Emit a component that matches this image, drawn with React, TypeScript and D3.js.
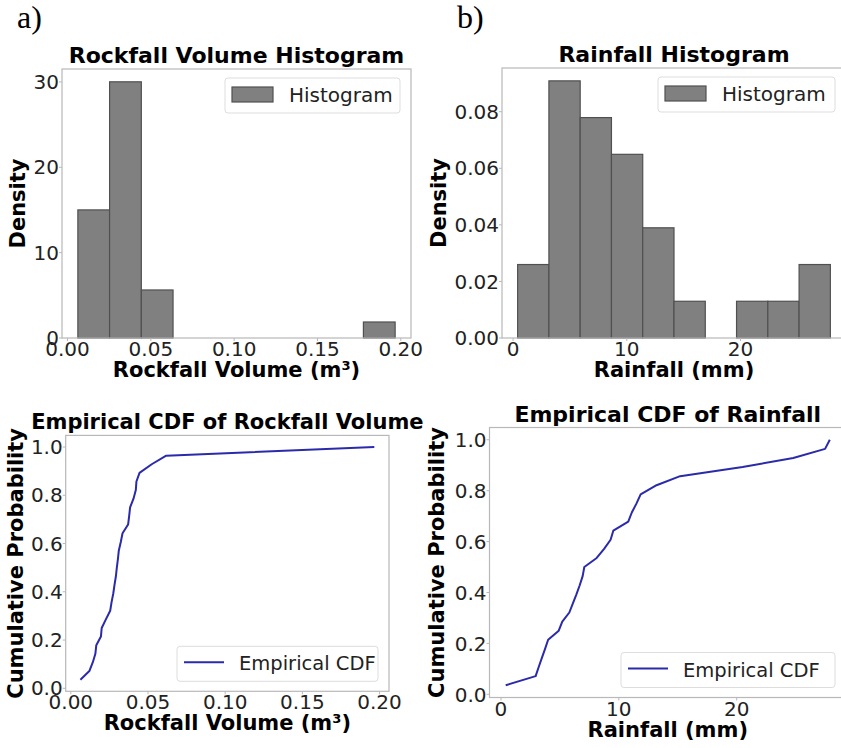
import * as React from 'react';
import * as d3 from 'd3';

// sorted samples (n = 28 each)
const rockfallVolume = [
  0.0062, 0.0120, 0.0142, 0.0159, 0.0165, 0.0195, 0.0200, 0.0227, 0.0255, 0.0264,
  0.0275, 0.0283, 0.0292, 0.0298, 0.0305, 0.0311, 0.0324, 0.0335, 0.0371, 0.0378,
  0.0384, 0.0406, 0.0421, 0.0425, 0.0445, 0.0524, 0.0618, 0.1966,
];
const rainfall = [
  0.4, 2.94, 3.2, 3.47, 3.74, 4.0, 4.9, 5.2, 5.8, 6.1,
  6.4, 6.68, 6.93, 7.07, 8.12, 8.75, 9.3, 9.53, 10.8, 11.1,
  11.5, 11.85, 13.2, 15.2, 20.5, 24.8, 27.5, 27.9,
];

const rockfallTicks = [0, 0.05, 0.1, 0.15, 0.2];
const rainfallTicks = [0, 10, 20];
const rockDensityTicks = [0, 10, 20, 30];
const rainDensityTicks = [0, 0.02, 0.04, 0.06, 0.08];
const probTicks = [0, 0.2, 0.4, 0.6, 0.8, 1.0];

const numBins = 10;
const font = '"DejaVu Sans", sans-serif';
const barFill = '#808080';
const barEdge = '#505050';
const lineColor = '#2a2aaa';
const spineColor = '#b8b8b8';
const textColor = '#222';

interface Rect { left: number; right: number; top: number; bottom: number; }

function padded(lo: number, hi: number): [number, number] {
  const p = (hi - lo) * 0.05;
  return [lo - p, hi + p];
}

function histBins(values: number[]) {
  const [lo, hi] = d3.extent(values) as [number, number];
  const w = (hi - lo) / numBins;
  const edges = d3.range(1, numBins).map(i => lo + i * w);
  const bins = d3.bin().domain([lo, hi]).thresholds(edges)(values);
  return bins.map(b => ({ x0: b.x0 as number, x1: b.x1 as number, density: b.length / (values.length * w) }));
}

interface FrameProps {
  rect: Rect;
  x: d3.ScaleLinear<number, number>;
  y: d3.ScaleLinear<number, number>;
  xTicks: number[];
  yTicks: number[];
  xFmt: (v: number) => string;
  yFmt: (v: number) => string;
  title: string;
  titleSize: number;
  xLabel: string;
  yLabel: string;
  yLabelX: number;
  children?: React.ReactNode;
}

function Frame(p: FrameProps) {
  const { rect, x, y } = p;
  const cx = (rect.left + rect.right) / 2;
  const cy = (rect.top + rect.bottom) / 2;
  return <g fontFamily={font} fill={textColor}>
    {p.children}
    <rect x={rect.left} y={rect.top} width={rect.right - rect.left} height={rect.bottom - rect.top}
      fill="none" stroke={spineColor} strokeWidth={1.2} />
    {p.xTicks.map(t => <g key={'x' + t}>
      <line x1={x(t)} x2={x(t)} y1={rect.bottom} y2={rect.bottom + 3} stroke={spineColor} />
      <text x={x(t)} y={rect.bottom + 18} fontSize={20} textAnchor="middle">{p.xFmt(t)}</text>
    </g>)}
    {p.yTicks.map(t => <g key={'y' + t}>
      <line x1={rect.left - 3} x2={rect.left} y1={y(t)} y2={y(t)} stroke={spineColor} />
      <text x={rect.left - 3} y={y(t)} dy="0.36em" fontSize={20} textAnchor="end">{p.yFmt(t)}</text>
    </g>)}
    <text x={cx} y={rect.top - 6} fontSize={p.titleSize} fontWeight="bold" textAnchor="middle" fill="#000">{p.title}</text>
    <text x={cx} y={rect.bottom + 39} fontSize={21} fontWeight="bold" textAnchor="middle" fill="#000">{p.xLabel}</text>
    <text transform={`translate(${p.yLabelX},${cy}) rotate(-90)`} fontSize={21} fontWeight="bold"
      textAnchor="middle" fill="#000">{p.yLabel}</text>
  </g>;
}

function HistPanel(props: { values: number[]; rect: Rect; xTicks: number[]; yTicks: number[];
  xFmt: (v: number) => string; yFmt: (v: number) => string; title: string; xLabel: string;
  yLabelX: number; legendW: number; }) {
  const { values, rect } = props;
  const bins = histBins(values);
  const [lo, hi] = d3.extent(values) as [number, number];
  const x = d3.scaleLinear().domain(padded(lo, hi)).range([rect.left, rect.right]);
  const maxD = d3.max(bins, b => b.density) as number;
  const y = d3.scaleLinear().domain([0, maxD * 1.05]).range([rect.bottom, rect.top]);
  const lx = rect.right - 11 - props.legendW;
  const ly = rect.top + 9;
  return <Frame rect={rect} x={x} y={y} xTicks={props.xTicks} yTicks={props.yTicks} xFmt={props.xFmt}
    yFmt={props.yFmt} title={props.title} titleSize={22} xLabel={props.xLabel} yLabel="Density"
    yLabelX={props.yLabelX}>
    {bins.filter(b => b.density > 0).map((b, i) =>
      <rect key={i} x={x(b.x0)} y={y(b.density)} width={x(b.x1) - x(b.x0)} height={y(0) - y(b.density)}
        fill={barFill} stroke={barEdge} strokeWidth={1.2} />)}
    <rect x={lx} y={ly} width={props.legendW} height={35} rx={3} fill="#fff" fillOpacity={0.8} stroke="#ddd" />
    <rect x={lx + 7} y={ly + 9} width={41} height={15} fill={barFill} stroke={barEdge} strokeWidth={1.2} />
    <text x={lx + 64} y={ly + 24} fontSize={20}>Histogram</text>
  </Frame>;
}

function CdfPanel(props: { values: number[]; rect: Rect; xTicks: number[]; xFmt: (v: number) => string;
  title: string; titleSize: number; xLabel: string; yLabelX: number; legendW: number; }) {
  const { values, rect } = props;
  const n = values.length;
  const sorted = values.slice().sort(d3.ascending);
  const pts = sorted.map((v, i) => [v, (i + 1) / n] as [number, number]);
  const [lo, hi] = d3.extent(sorted) as [number, number];
  const x = d3.scaleLinear().domain(padded(lo, hi)).range([rect.left, rect.right]);
  const y = d3.scaleLinear().domain(padded(1 / n, 1)).range([rect.bottom, rect.top]);
  const path = d3.line<[number, number]>().x(d => x(d[0])).y(d => y(d[1]))(pts) as string;
  const lx = rect.right - 11 - props.legendW;
  const ly = rect.bottom - 10 - 35;
  return <Frame rect={rect} x={x} y={y} xTicks={props.xTicks} yTicks={probTicks} xFmt={props.xFmt}
    yFmt={d3.format('.1f')} title={props.title} titleSize={props.titleSize} xLabel={props.xLabel}
    yLabel="Cumulative Probability" yLabelX={props.yLabelX}>
    <path d={path} fill="none" stroke={lineColor} strokeWidth={2} strokeLinejoin="round" />
    <rect x={lx} y={ly} width={props.legendW} height={35} rx={3} fill="#fff" fillOpacity={0.8} stroke="#ddd" />
    <line x1={lx + 7} x2={lx + 47} y1={ly + 16} y2={ly + 16} stroke={lineColor} strokeWidth={2} />
    <text x={lx + 62} y={ly + 24} fontSize={19.5}>Empirical CDF</text>
  </Frame>;
}

export default function App() {
  const f2 = d3.format('.2f');
  const fInt = d3.format('d');
  return <div style={{ position: 'absolute', left: 0, top: 0 }}>
    <svg width={841} height={748} style={{ display: 'block', background: '#fff' }}>
      <text x={17} y={28} fontFamily='"Liberation Serif", serif' fontSize={32}>a)</text>
      <text x={457} y={28} fontFamily='"Liberation Serif", serif' fontSize={32}>b)</text>
      <HistPanel values={rockfallVolume} rect={{ left: 62, right: 411, top: 69, bottom: 338 }}
        xTicks={rockfallTicks} yTicks={rockDensityTicks} xFmt={f2} yFmt={fInt}
        title="Rockfall Volume Histogram" xLabel="Rockfall Volume (m³)" yLabelX={25} legendW={175} />
      <HistPanel values={rainfall} rect={{ left: 502, right: 846, top: 68, bottom: 338 }}
        xTicks={rainfallTicks} yTicks={rainDensityTicks} xFmt={fInt} yFmt={f2}
        title="Rainfall Histogram" xLabel="Rainfall (mm)" yLabelX={446} legendW={177} />
      <CdfPanel values={rockfallVolume} rect={{ left: 65.7, right: 389, top: 435.4, bottom: 691.3 }}
        xTicks={rockfallTicks} xFmt={f2} title="Empirical CDF of Rockfall Volume" titleSize={21}
        xLabel="Rockfall Volume (m³)" yLabelX={23} legendW={201} />
      <CdfPanel values={rainfall} rect={{ left: 489.5, right: 846, top: 427.5, bottom: 697.5 }}
        xTicks={rainfallTicks} xFmt={fInt} title="Empirical CDF of Rainfall" titleSize={22}
        xLabel="Rainfall (mm)" yLabelX={444} legendW={214} />
    </svg>
  </div>;
}
